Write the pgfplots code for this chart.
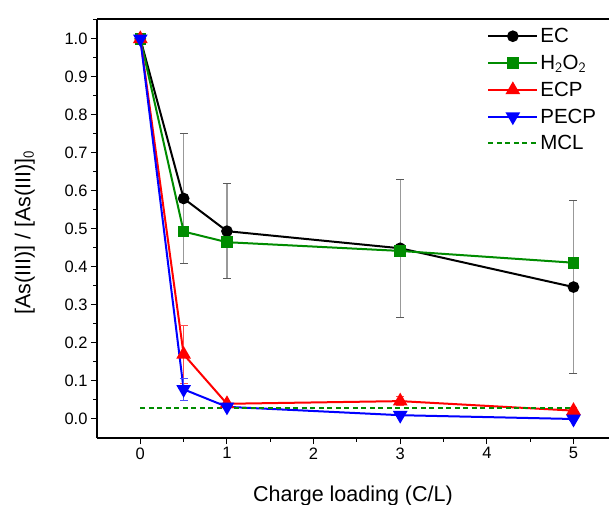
\documentclass[border=0pt]{standalone}
\usepackage{pgfplots}
\pgfplotsset{compat=1.18}
\usepackage{fontspec}
\setmainfont{Liberation Sans}
\definecolor{ogreen}{RGB}{0,140,0}
\begin{document}
\begin{tikzpicture}
\useasboundingbox (-97pt,-66pt) rectangle (512pt,438pt);
\begin{axis}[
  at={(0pt,0pt)}, anchor=south west,
  scale only axis, width=512pt, height=419pt,
  xmin=-0.5, xmax=5.41, ymin=-0.05, ymax=1.052,
  axis x line*=bottom, axis y line*=left,
  axis line style={line width=1.2pt, -},
  xtick={0,1,2,3,4,5}, minor xtick={0.5,1.5,2.5,3.5,4.5},
  ytick={0,0.1,...,1.0}, minor ytick={0.05,0.15,...,1.0},
  yticklabel style={/pgf/number format/.cd,fixed,fixed zerofill,precision=1},
  /pgf/number format/assume math mode=true,
  tick align=outside,
  major tick length=6pt, minor tick length=3.5pt,
  every tick/.style={black, line width=1pt},
  tick label style={font=\fontsize{16.5}{18}\selectfont},
  xlabel={Charge loading (C/L)},
  ylabel={[As(III)] / [As(III)]$_{\mathsf{0}}$},
  label style={font=\fontsize{21.5}{24}\selectfont},
  xlabel style={at={(axis description cs:0.5,0)}, anchor=base, yshift=-63pt},
  ylabel style={at={(axis description cs:-0.13,0.49)}, anchor=base},
  legend style={draw=none, fill=none, at={(0.762,0.983)}, anchor=north west,
    font=\fontsize{20.5}{23}\selectfont, row sep=7pt, inner sep=0pt,
    /tikz/every even column/.append style={column sep=6pt}},
  legend cell align=left,
  legend image code/.code={\draw[mark repeat=2,mark phase=2] plot coordinates {(0pt,0pt) (24.5pt,0pt) (49pt,0pt)};},
  clip=false,
]
\addplot[black, line width=2pt, mark=*, mark size=4.8pt,
  error bars/.cd, y dir=both, y explicit, error mark options={rotate=90, mark size=4pt, gray!70!black, line width=1pt},
  error bar style={gray!80, line width=1.3pt}]
  coordinates {(0,1.0) +- (0,0) (0.5,0.58) +- (0,0.172) (1,0.494) +- (0,0.125) (3,0.449) +- (0,0.182) (5,0.347) +- (0,0.228)};
\addlegendentry{EC}
\addplot[ogreen, line width=2pt, mark=square*, mark size=4.8pt]
  coordinates {(0,1.0) (0.5,0.493) (1,0.465) (3,0.442) (5,0.411)};
\addlegendentry{H$_{\mathsf{2}}$O$_{\mathsf{2}}$\rule[-8pt]{0pt}{1pt}}
\addplot[red, line width=2pt, mark=triangle*, mark size=6.5pt,
  error bars/.cd, y dir=both, y explicit, error mark options={rotate=90, mark size=4pt, red!70, line width=1pt},
  error bar style={red!70, line width=1pt}]
  coordinates {(0,1.0) +- (0,0) (0.5,0.17) +- (0,0.077) (1,0.04) +- (0,0.004) (3,0.047) +- (0,0.012) (5,0.022) +- (0,0.008)};
\addlegendentry{ECP}
\addplot[blue, line width=2pt, mark=triangle*, mark options={rotate=180}, mark size=6.5pt,
  error bars/.cd, y dir=both, y explicit, error mark options={rotate=90, mark size=4pt, blue!70, line width=1pt},
  error bar style={blue!70, line width=1pt}]
  coordinates {(0,1.0) +- (0,0) (0.5,0.078) +- (0,0.029) (1,0.032) +- (0,0.004) (3,0.01) +- (0,0.004) (5,0.0) +- (0,0.004)};
\addlegendentry{PECP}
\addplot[draw=ogreen, line width=2pt, dash pattern=on 5pt off 3.5pt, mark=none]
  coordinates {(0,0.03) (5,0.03)};
\addlegendentry{MCL}
\end{axis}
\draw[line width=1.2pt] (0pt,419pt) -- (512pt,419pt);
\end{tikzpicture}
\end{document}
